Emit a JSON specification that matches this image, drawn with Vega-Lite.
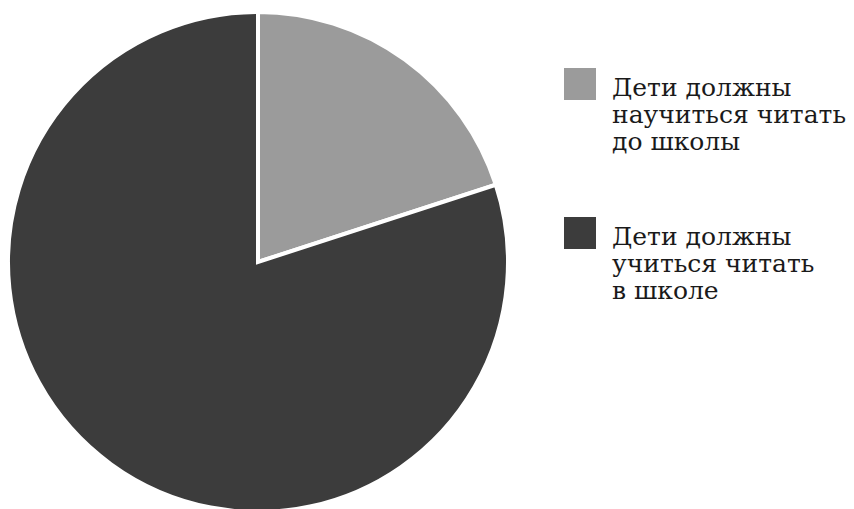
{
  "$schema": "https://vega.github.io/schema/vega-lite/v6.json",
  "width": 516,
  "height": 524,
  "padding": {"left": 0, "top": 0, "right": 338, "bottom": 0},
  "autosize": {"type": "none"},
  "background": "white",
  "data": {
    "values": [
      {"category": "Дети должны научиться читать до школы", "share": 20, "order": 1},
      {"category": "Дети должны учиться читать в школе", "share": 80, "order": 2}
    ]
  },
  "mark": {"type": "arc", "outerRadius": 250, "stroke": "white", "strokeWidth": 4},
  "encoding": {
    "theta": {"field": "share", "type": "quantitative", "stack": true},
    "order": {"field": "order", "type": "quantitative"},
    "color": {
      "field": "category",
      "type": "nominal",
      "sort": ["Дети должны научиться читать до школы", "Дети должны учиться читать в школе"],
      "scale": {"range": ["#9b9b9b", "#3c3c3c"]},
      "legend": {
        "title": null,
        "orient": "none",
        "legendX": 564,
        "legendY": 80,
        "symbolType": "M-1,-1.75H1V0.25H-1Z",
        "symbolSize": 1024,
        "symbolStrokeWidth": 0,
        "labelFont": "DejaVu Serif",
        "labelFontSize": 25,
        "labelColor": "#1a1a1a",
        "labelOffset": 16,
        "labelLimit": 400,
        "labelLineHeight": 34,
        "rowPadding": 62,
        "labelExpr": "datum.label == 'Дети должны научиться читать до школы' ? ['Дети должны', 'научиться читать', 'до школы'] : ['Дети должны', 'учиться читать', 'в школе']",
        "labelBaseline": "alphabetic"
      }
    }
  }
}
